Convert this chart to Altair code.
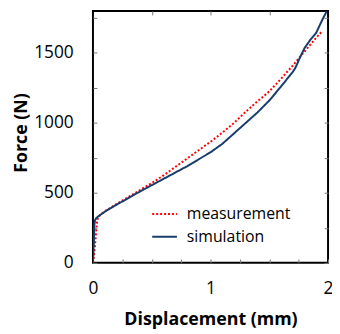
import altair as alt
import pandas as pd

# ---- data ----
series_names = ["measurement", "simulation"]

meas_d = [0, 0.01, 0.02, 0.028, 0.035, 0.045, 0.1, 0.2, 0.3, 0.4, 0.5, 0.6, 0.7,
          0.8, 0.9, 1.0, 1.1, 1.2, 1.3, 1.4, 1.5, 1.6, 1.7, 1.8, 1.9, 1.95]
meas_f = [0, 60, 150, 230, 300, 330, 368, 420, 470, 520, 570, 625, 685,
          745, 805, 865, 930, 1000, 1080, 1155, 1225, 1315, 1410, 1510, 1610, 1655]

sim_d = [0, 0.008, 0.012, 0.018, 0.03, 0.05, 0.1, 0.2, 0.3, 0.4, 0.5, 0.6, 0.7,
         0.8, 0.9, 1.0, 1.1, 1.2, 1.3, 1.4, 1.5, 1.55, 1.6, 1.7, 1.72, 1.76,
         1.8, 1.85, 1.9, 1.95, 1.99]
sim_f = [0, 150, 270, 305, 322, 335, 365, 415, 462, 510, 555, 600, 645,
         690, 740, 790, 850, 925, 1000, 1075, 1160, 1210, 1260, 1365, 1390, 1465,
         1535, 1595, 1645, 1735, 1800]

x_bottom_ticks = [0, 0.25, 0.5, 0.75, 1.0, 1.25, 1.5, 1.75, 2.0]
x_top_ticks = [0.5, 1.0, 1.5]
y_side_ticks = [0, 250, 500, 750, 1000, 1250, 1500, 1750]

colors = ["#FF0000", "#173D6B"]
dashes = [[2, 2], [1, 0]]

df = pd.concat([
    pd.DataFrame({"d": meas_d, "F": meas_f, "series": series_names[0]}),
    pd.DataFrame({"d": sim_d, "F": sim_f, "series": series_names[1]}),
], ignore_index=True)

W, H = 238, 255
FONT = "Open Sans"
INWARD = alt.ExprRef(expr="-4")

xscale = alt.Scale(domain=[0, 2], nice=False, zero=False)
yscale = alt.Scale(domain=[0, 1800], nice=False)

leg = alt.Legend(
    title=None, orient="none", legendX=59, legendY=192,
    symbolType="stroke", symbolSize=625, symbolStrokeWidth=2,
    labelFont=FONT, labelFontSize=16, labelColor="black",
    labelOffset=9, rowPadding=1, padding=0,
)

tick_common = dict(domain=False, grid=False, tickSize=INWARD,
                   tickColor="#777777", tickWidth=1)

lines = alt.Chart(df).mark_line(strokeWidth=2, clip=True).encode(
    x=alt.X("d:Q", scale=xscale, axis=alt.Axis(
        orient="bottom", values=x_bottom_ticks,
        labelExpr="datum.value % 1 == 0 ? format(datum.value, 'd') : ''",
        labelPadding=21, labelFont=FONT, labelFontSize=17.5,
        labelColor="black", labelFlush=False, labelOverlap=False,
        title="Displacement (mm)", titleFont=FONT, titleFontSize=18,
        titleFontWeight="bold", titleColor="black", titleY=62,
        titleBaseline="alphabetic", **tick_common)),
    y=alt.Y("F:Q", scale=yscale, axis=alt.Axis(
        orient="left", values=y_side_ticks,
        labelExpr="datum.value % 500 == 0 ? format(datum.value, 'd') : ''",
        labelPadding=24, labelFont=FONT, labelFontSize=17.5,
        labelColor="black", labelOverlap=False,
        title="Force (N)", titleFont=FONT, titleFontSize=18,
        titleFontWeight="bold", titleColor="black", titleX=-67, titleY=123,
        titleAngle=270, titleBaseline="alphabetic", **tick_common)),
    color=alt.Color("series:N", scale=alt.Scale(domain=series_names, range=colors), legend=leg),
    strokeDash=alt.StrokeDash("series:N", scale=alt.Scale(domain=series_names, range=dashes), legend=leg),
)

ticks_far = alt.Chart(df).mark_point(opacity=0).encode(
    x=alt.X("d:Q", scale=xscale, axis=alt.Axis(orient="top", values=x_top_ticks,
                                               labels=False, title=None, **tick_common)),
    y=alt.Y("F:Q", scale=yscale, axis=alt.Axis(orient="right", values=y_side_ticks,
                                               labels=False, title=None, **tick_common)),
)

chart = alt.layer(lines, ticks_far).resolve_axis(
    x="independent", y="independent"
).properties(
    width=W, height=H,
    padding={"left": 86, "top": 1, "right": 4, "bottom": 68},
    autosize=alt.AutoSizeParams(type="none"),
).configure_view(stroke="black", strokeWidth=2)

chart.save("out.html", embed_options={"renderer": "svg", "actions": False})
